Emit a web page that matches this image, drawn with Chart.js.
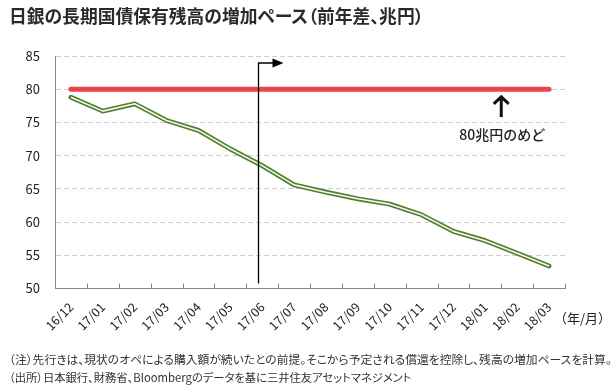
<!DOCTYPE html>
<html><head><meta charset="utf-8">
<script src="https://cdn.jsdelivr.net/npm/chart.js@4/dist/chart.umd.min.js"></script>
<style>
html,body{margin:0;padding:0;background:#fff;}
#wrap{position:relative;width:615px;height:392px;overflow:hidden;font-family:'Noto Sans CJK JP','Noto Sans',sans-serif;}
#c{position:absolute;left:0;top:0;}
.title{position:absolute;left:9px;top:3px;font-size:17.8px;line-height:24px;font-weight:bold;color:#2a2a2a;font-feature-settings:"palt";white-space:nowrap;}
.note{position:absolute;left:9px;line-height:14px;color:#333;white-space:nowrap;font-feature-settings:"palt";}
.unit{position:absolute;left:554px;top:309px;font-size:13px;line-height:18px;color:#222;white-space:nowrap;}
</style></head>
<body><div id="wrap">
<canvas id="c" width="615" height="392" style="width:615px;height:392px"></canvas>
<div class="title">日銀の長期国債保有残高の増加ペース（前年差、兆円）</div>
<div class="unit">（年/月）</div>
<div class="note" style="top:352px;font-size:11.8px">（注）先行きは、現状のオペによる購入額が続いたとの前提。そこから予定される償還を控除し、残高の増加ペースを計算。</div>
<div class="note" style="top:370px;font-size:11.3px">（出所）日本銀行、財務省、Bloombergのデータを基に三井住友アセットマネジメント</div>
</div>
<script>
const categories = ['16/12','17/01','17/02','17/03','17/04','17/05','17/06','17/07','17/08','17/09','17/10','17/11','17/12','18/01','18/02','18/03'];
const paceValues = [78.8, 76.7, 77.8, 75.3, 73.8, 71.0, 68.5, 65.6, 64.5, 63.5, 62.7, 61.1, 58.6, 57.2, 55.3, 53.4];
const targetValues = [80, 80, 80, 80, 80, 80, 80, 80, 80, 80, 80, 80, 80, 80, 80, 80];
const yTicks = [50, 55, 60, 65, 70, 75, 80, 85];
const targetLabel = '80兆円のめど';
const forecastStartIndex = 5.87;
const targetArrowIndex = 13.5;

const FONT = "'Noto Sans CJK JP','Noto Sans',sans-serif";

const annotations = {
  id: 'annotations',
  afterDraw(chart) {
    const {ctx, chartArea, scales: {x, y}} = chart;
    ctx.save();
    // inner ticks on x axis
    ctx.strokeStyle = '#888';
    ctx.lineWidth = 1;
    const n = categories.length;
    for (let i = 0; i <= n; i++) {
      const px = Math.round(chartArea.left + i * (chartArea.right - chartArea.left) / n) + 0.5;
      ctx.beginPath();
      ctx.moveTo(px, chartArea.bottom);
      ctx.lineTo(px, chartArea.bottom - 5);
      ctx.stroke();
    }
    // forecast start marker
    const vx = Math.round(x.getPixelForValue(forecastStartIndex)) + 0.5;
    const topY = chartArea.top + 7;
    ctx.strokeStyle = '#000';
    ctx.lineWidth = 1.3;
    ctx.beginPath();
    ctx.moveTo(vx, chartArea.bottom - 5);
    ctx.lineTo(vx, topY);
    ctx.lineTo(vx + 15, topY);
    ctx.stroke();
    ctx.fillStyle = '#000';
    ctx.beginPath();
    ctx.moveTo(vx + 14, topY - 4.5);
    ctx.lineTo(vx + 25, topY);
    ctx.lineTo(vx + 14, topY + 4.5);
    ctx.closePath();
    ctx.fill();
    // up arrow to target line
    const ax = x.getPixelForValue(targetArrowIndex);
    const aTop = y.getPixelForValue(79.0);
    const aBot = y.getPixelForValue(75.8);
    ctx.strokeStyle = '#111';
    ctx.lineWidth = 3;
    ctx.lineCap = 'butt';
    ctx.lineJoin = 'miter';
    ctx.beginPath();
    ctx.moveTo(ax, aBot);
    ctx.lineTo(ax, aTop + 1);
    ctx.stroke();
    ctx.beginPath();
    ctx.moveTo(ax - 7.5, aTop + 8);
    ctx.lineTo(ax, aTop + 1);
    ctx.lineTo(ax + 7.5, aTop + 8);
    ctx.stroke();
    ctx.fillStyle = '#222';
    ctx.font = '500 14px ' + FONT;
    ctx.textAlign = 'center';
    ctx.textBaseline = 'middle';
    ctx.fillText(targetLabel, ax + 1, y.getPixelForValue(73.15));
    ctx.restore();
  }
};

new Chart(document.getElementById('c'), {
  type: 'line',
  data: {
    labels: categories,
    datasets: [
      { data: paceValues, borderColor: '#f4f8ee', borderWidth: 1.6, pointRadius: 0, tension: 0, order: 0, borderJoinStyle: 'round' },
      { data: paceValues, borderColor: '#4f7f2e', borderWidth: 4.8, pointRadius: 0, tension: 0, order: 1, borderJoinStyle: 'round', borderCapStyle: 'round' },
      { data: targetValues, borderColor: '#e84545', borderWidth: 5, pointRadius: 0, tension: 0, order: 2, borderCapStyle: 'round' }
    ]
  },
  options: {
    responsive: false,
    animation: false,
    devicePixelRatio: 1,
    layout: { padding: { top: 56, right: 50, left: 0, bottom: 0 } },
    plugins: { legend: { display: false }, tooltip: { enabled: false } },
    scales: {
      x: {
        offset: true,
        grid: { display: false },
        border: { display: true, color: '#888', width: 1 },
        ticks: { autoSkip: false, maxRotation: 45, minRotation: 45, color: '#222', padding: 3, font: { family: FONT, size: 12.5 } },
        afterFit: s => { s.height = 103.5; }
      },
      y: {
        min: 50, max: 85,
        afterBuildTicks: s => { s.ticks = yTicks.map(v => ({ value: v })); },
        grid: { color: '#cfcfcf', lineWidth: 1, drawTicks: false },
        border: { display: true, color: '#888', width: 1, dash: [5, 3] },
        ticks: { color: '#222', padding: 15, font: { family: FONT, size: 13 } },
        afterFit: s => { s.width = 55; }
      }
    }
  },
  plugins: [annotations]
});
</script>
</body></html>
